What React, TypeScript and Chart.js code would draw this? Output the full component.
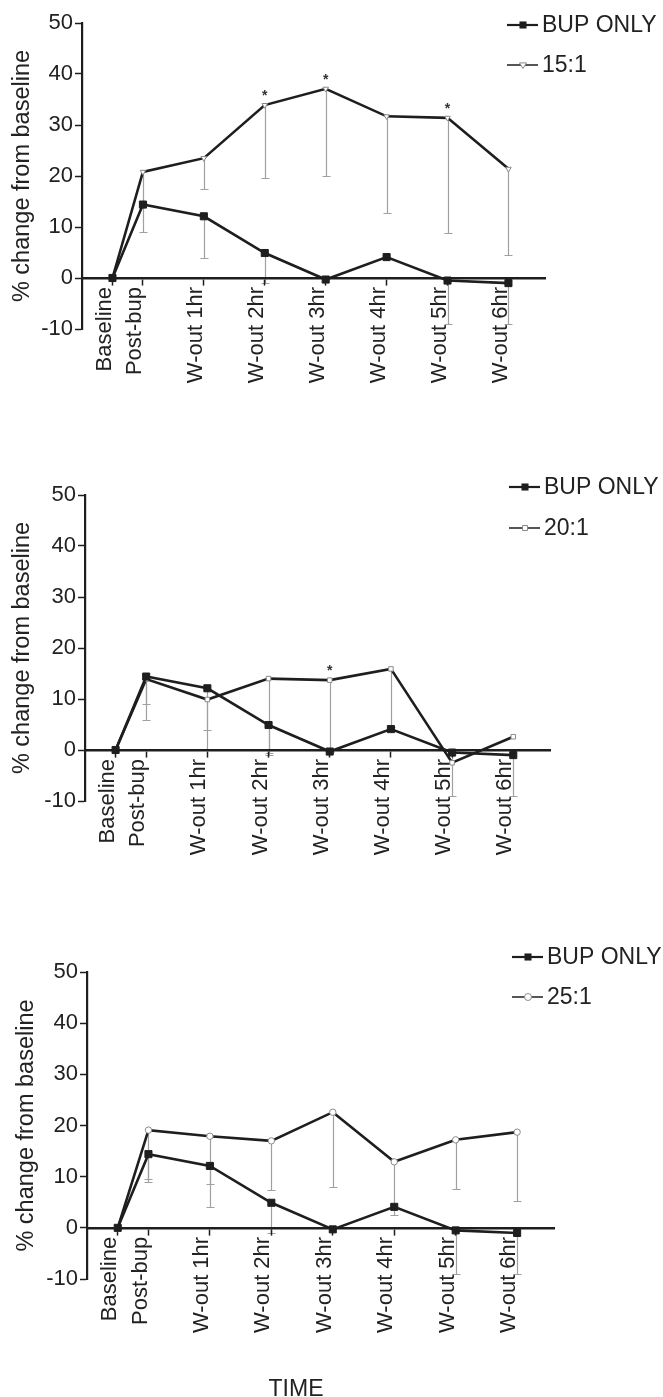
import { useEffect, useRef } from "react";
import { Chart, registerables } from "chart.js";

Chart.register(...registerables);

const FONT = "'Liberation Sans', Arial, Helvetica, sans-serif";
Chart.defaults.font.family = FONT;
Chart.defaults.color = "#222";

// Time points (x positions on a linear axis: baseline and post-bup sit half a step apart)
const timeLabels = ["Baseline", "Post-bup", "W-out 1hr", "W-out 2hr", "W-out 3hr", "W-out 4hr", "W-out 5hr", "W-out 6hr"];
const timePositions = [0, 0.5, 1.5, 2.5, 3.5, 4.5, 5.5, 6.5];
const yTicks = [-10, 0, 10, 20, 30, 40, 50];

// % change from baseline (means) and lower end of error bars
const bupOnly = [0, 14.4, 12.1, 4.9, -0.3, 4.1, -0.5, -1.0];
const bupOnlyLower = [null, 9.0, 4.0, -1.0, null, null, -9.0, -9.0];

const ratio15 = [0, 20.8, 23.5, 33.9, 37.1, 31.7, 31.4, 21.4];
const ratio15Lower = [null, 14.8, 17.4, 19.6, 20.0, 12.8, 8.9, 4.5];
const ratio15Sig = [false, false, false, true, true, false, true, false];

const ratio20 = [0, 13.9, 9.9, 14.0, 13.7, 15.9, -2.5, 2.6];
const ratio20Lower = [null, 5.8, 0.2, -0.5, -0.3, 4.5, null, null];
const ratio20Sig = [false, false, false, false, true, false, false, false];

const ratio25 = [0, 19.1, 17.9, 17.0, 22.6, 12.9, 17.2, 18.7];
const ratio25Lower = [null, 9.5, 8.5, 7.4, 7.9, 2.5, 7.6, 5.3];
const ratio25Sig = [false, false, false, false, false, false, false, false];

const LINE = "#1e1e1e";
const MARK = "#8a8a8a";
const ERR = "#a0a0a0";

type Marker = "triangleDown" | "rect" | "circle";

interface Panel {
  name: string;
  values: number[];
  lower: (number | null)[];
  sig: boolean[];
  marker: Marker;
  top: number;
  height: number;
  pad: { left: number; top: number; right: number; bottom: number };
  axisWidth: number;
  legendX: number;
  legendY: [number, number];
  time?: { x: number; y: number };
}

const panels: Panel[] = [
  {
    name: "15:1", values: ratio15, lower: ratio15Lower, sig: ratio15Sig, marker: "triangleDown",
    top: 0, height: 460, pad: { left: 0, top: 23, right: 118, bottom: 131 }, axisWidth: 82,
    legendX: 507, legendY: [25, 65],
  },
  {
    name: "20:1", values: ratio20, lower: ratio20Lower, sig: ratio20Sig, marker: "rect",
    top: 460, height: 450, pad: { left: 0, top: 35, right: 113, bottom: 109 }, axisWidth: 85,
    legendX: 509, legendY: [27, 68],
  },
  {
    name: "25:1", values: ratio25, lower: ratio25Lower, sig: ratio25Sig, marker: "circle",
    top: 910, height: 487, pad: { left: 4, top: 62, right: 109, bottom: 118 }, axisWidth: 83,
    legendX: 512, legendY: [47, 87], time: { x: 296, y: 486 },
  },
];

function drawMarker(ctx: CanvasRenderingContext2D, style: Marker | "filledRect", cx: number, cy: number, r: number) {
  ctx.save();
  ctx.beginPath();
  if (style === "rect" || style === "filledRect") {
    const s = r * Math.SQRT1_2;
    ctx.rect(cx - s, cy - s, 2 * s, 2 * s);
  } else if (style === "triangleDown") {
    ctx.moveTo(cx - r, cy - r * 0.6);
    ctx.lineTo(cx + r, cy - r * 0.6);
    ctx.lineTo(cx, cy + r);
    ctx.closePath();
  } else {
    ctx.arc(cx, cy, r, 0, Math.PI * 2);
  }
  if (style === "filledRect") {
    ctx.fillStyle = LINE;
    ctx.fill();
  } else {
    ctx.fillStyle = "#fff";
    ctx.fill();
    ctx.strokeStyle = MARK;
    ctx.lineWidth = 1;
    ctx.stroke();
  }
  ctx.restore();
}

function makeOverlay(panel: Panel) {
  return {
    id: "panelOverlay",
    // error bars go underneath the axes and their labels
    beforeDraw(chart: any) {
      const { ctx, scales } = chart;
      const x = scales.x;
      const y = scales.y;
      if (!x || !y) return;
      ctx.save();
      ctx.strokeStyle = ERR;
      ctx.lineWidth = 1.2;
      const series = [
        { values: bupOnly, lower: bupOnlyLower },
        { values: panel.values, lower: panel.lower },
      ];
      series.forEach((s) =>
        s.lower.forEach((lo, i) => {
          if (lo === null) return;
          const px = Math.round(x.getPixelForValue(timePositions[i])) + 0.5;
          const py0 = y.getPixelForValue(s.values[i]);
          const py1 = Math.round(y.getPixelForValue(lo)) + 0.5;
          ctx.beginPath();
          ctx.moveTo(px, py0);
          ctx.lineTo(px, py1);
          ctx.moveTo(px - 4, py1);
          ctx.lineTo(px + 4, py1);
          ctx.stroke();
        })
      );
      ctx.restore();
    },
    afterDatasetsDraw(chart: any) {
      const { ctx, scales } = chart;
      const x = scales.x;
      const y = scales.y;
      ctx.save();
      // significance marks
      ctx.fillStyle = "#333";
      ctx.font = `bold 14px ${FONT}`;
      ctx.textAlign = "center";
      ctx.textBaseline = "middle";
      panel.sig.forEach((s, i) => {
        if (!s) return;
        const px = x.getPixelForValue(timePositions[i]);
        const py = y.getPixelForValue(panel.values[i]);
        ctx.fillText("*", px, py - 9);
      });

      // legend
      const entries: { label: string; marker: Marker | "filledRect" }[] = [
        { label: "BUP ONLY", marker: "filledRect" },
        { label: panel.name, marker: panel.marker },
      ];
      entries.forEach((e, k) => {
        const ly = panel.legendY[k];
        const lx = panel.legendX;
        ctx.strokeStyle = LINE;
        ctx.lineWidth = k === 0 ? 2.2 : 1.5;
        ctx.beginPath();
        ctx.moveTo(lx, ly);
        ctx.lineTo(lx + 31, ly);
        ctx.stroke();
        drawMarker(ctx, e.marker, lx + 16, ly, k === 0 ? 5 : 3.5);
        ctx.fillStyle = "#222";
        ctx.font = `23px ${FONT}`;
        ctx.textAlign = "left";
        ctx.textBaseline = "middle";
        ctx.fillText(e.label, lx + 35, ly + 1);
      });

      if (panel.time) {
        ctx.fillStyle = "#222";
        ctx.font = `23px ${FONT}`;
        ctx.textAlign = "center";
        ctx.textBaseline = "alphabetic";
        ctx.fillText("TIME", panel.time.x, panel.time.y);
      }
      ctx.restore();
    },
  };
}

function PanelChart({ panel }: { panel: Panel }) {
  const ref = useRef<HTMLCanvasElement | null>(null);

  useEffect(() => {
    if (!ref.current) return;
    const markerStyle = panel.marker === "triangleDown" ? "triangle" : panel.marker;
    const chart = new Chart(ref.current, {
      type: "line",
      data: {
        datasets: [
          {
            label: "BUP ONLY",
            data: timePositions.map((t, i) => ({ x: t, y: bupOnly[i] })),
            borderColor: LINE,
            borderWidth: 2.6,
            pointStyle: "rect",
            pointRadius: 5,
            pointBackgroundColor: LINE,
            pointBorderColor: LINE,
            pointBorderWidth: 1,
            tension: 0,
          },
          {
            label: panel.name,
            data: timePositions.map((t, i) => ({ x: t, y: panel.values[i] })),
            borderColor: LINE,
            borderWidth: 2.6,
            pointStyle: markerStyle as any,
            pointRotation: panel.marker === "triangleDown" ? 180 : 0,
            pointRadius: 3.2,
            pointBackgroundColor: "#fff",
            pointBorderColor: MARK,
            pointBorderWidth: 1,
            tension: 0,
          },
        ],
      },
      options: {
        animation: false,
        responsive: false,
        maintainAspectRatio: false,
        layout: { padding: panel.pad },
        plugins: { legend: { display: false }, tooltip: { enabled: false } },
        scales: {
          x: {
            type: "linear",
            position: { y: 0 } as any,
            min: -0.5,
            max: 7.1,
            afterBuildTicks: (axis: any) => {
              axis.ticks = timePositions.map((v) => ({ value: v }));
            },
            grid: {
              display: true,
              drawOnChartArea: false,
              drawTicks: true,
              tickLength: 6,
              tickWidth: 1.5,
              tickColor: "#1e1e1e",
            },
            border: { display: true, color: "#1e1e1e", width: 2.6 },
            ticks: {
              autoSkip: false,
              minRotation: 90,
              maxRotation: 90,
              padding: 3,
              labelOffset: -8,
              color: "#222",
              font: { size: 22, family: FONT },
              callback: (_v: any, i: number) => timeLabels[i] ?? "",
            },
          },
          y: {
            type: "linear",
            position: "left",
            min: -10,
            max: 50,
            afterBuildTicks: (axis: any) => {
              axis.ticks = yTicks.map((v) => ({ value: v }));
            },
            afterFit: (axis: any) => {
              axis.width = panel.axisWidth;
            },
            grid: {
              display: true,
              drawOnChartArea: false,
              drawTicks: true,
              tickLength: 7,
              tickWidth: 1.5,
              tickColor: "#1e1e1e",
            },
            border: { display: true, color: "#1e1e1e", width: 2.2 },
            ticks: {
              padding: 2,
              color: "#222",
              font: { size: 22, family: FONT },
            },
            title: {
              display: true,
              text: "% change from baseline",
              color: "#222",
              font: { size: 23.5, family: FONT },
              padding: { top: 8, bottom: 0 },
            },
          },
        },
      },
      plugins: [makeOverlay(panel)],
    });
    return () => chart.destroy();
  }, [panel]);

  return (
    <canvas
      ref={ref}
      width={663}
      height={panel.height}
      style={{ position: "absolute", left: 0, top: panel.top, width: 663, height: panel.height, display: "block" }}
    />
  );
}

export default function App() {
  return (
    <div
      style={{
        position: "absolute",
        left: 0,
        top: 0,
        width: 663,
        height: 1397,
        overflow: "hidden",
        background: "#fff",
      }}
    >
      {panels.map((p) => (
        <PanelChart key={p.name} panel={p} />
      ))}
    </div>
  );
}
